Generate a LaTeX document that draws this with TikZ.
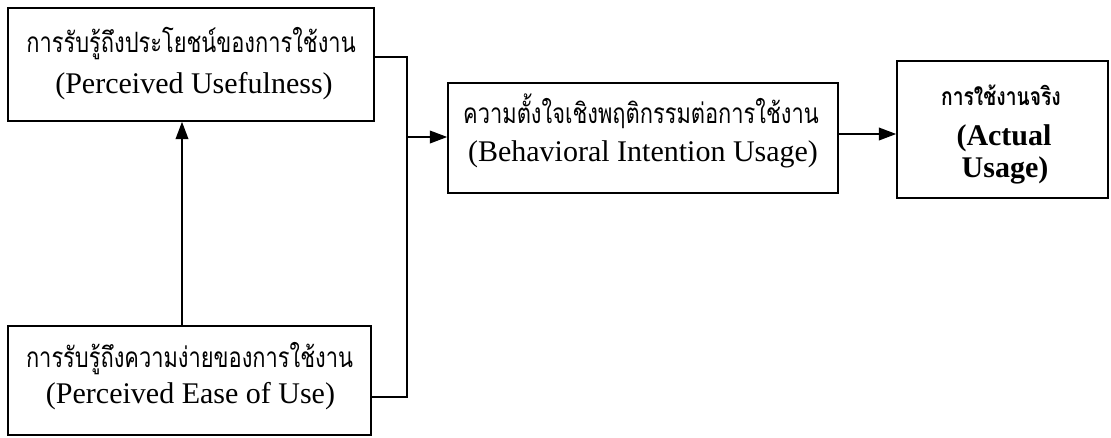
\documentclass[tikz,border=0pt]{standalone}
\usepackage{fontspec}
\setmainfont{Liberation Serif}
\newfontfamily\thaifont[Script=Thai,FakeStretch=0.78]{Loma}
\usetikzlibrary{arrows.meta}
\tikzset{
  box/.style={draw, line width=1.2pt, inner sep=0pt},
  thl/.style={anchor=base, inner sep=0pt, font=\thaifont\fontsize{21}{24}\selectfont},
  lat/.style={anchor=base, inner sep=0pt, font=\fontsize{22.5}{26}\selectfont},
  thb/.style={anchor=base, inner sep=0pt, font=\thaifont\bfseries\fontsize{18.5}{22}\selectfont},
  latb/.style={anchor=base, inner sep=0pt, font=\bfseries\fontsize{22.5}{26}\selectfont},
  conn/.style={line width=1.2pt},
  tri/.tip={Triangle[length=13pt, width=9.5pt]}
}
\begin{document}
\begin{tikzpicture}[x=0.75pt,y=-0.75pt]
\useasboundingbox (0,0) rectangle (1111,437);
% boxes
\node[box, minimum width=274.5pt, minimum height=84.75pt] (PU) at (191,64.5) {};
\node[box, minimum width=272.25pt, minimum height=81.75pt] (PEU) at (189.5,380.5) {};
\node[box, minimum width=292.5pt, minimum height=82.5pt] (BI) at (643,138) {};
\node[box, minimum width=158.25pt, minimum height=102.75pt] (AU) at (1002.5,129.5) {};
% texts
\node[thl] (PUa) at (191,52) {การรับรู้ถึงประโยชน์ของการใช้งาน};
\node[lat] (PUb) at (194,93) {(Perceived Usefulness)};
\node[thl] (PEUa) at (189.5,367) {การรับรู้ถึงความง่ายของการใช้งาน};
\node[lat] (PEUb) at (190.5,403) {(Perceived Ease of Use)};
\node[thl] (BIa) at (641,123) {ความตั้งใจเชิงพฤติกรรมต่อการใช้งาน};
\node[lat] (BIb) at (643,161) {(Behavioral Intention Usage)};
\node[thb] (AUa) at (1001,105) {การใช้งานจริง};
\node[latb] (AUb) at (1004,145) {(Actual};
\node[latb] (AUc) at (1005,177) {Usage)};
% connectors
\coordinate (j1) at (407,57);
\coordinate (j2) at (407,397);
\coordinate (j3) at (407,137);
\coordinate (a1) at (0,134);
\coordinate (u1) at (182,0);
\draw[conn] (PU.east |- j1) -- (j1) -- (j2) -- (PEU.east |- j2);
\draw[conn,-tri] (j3) -- (BI.west |- j3);
\draw[conn,-tri] (BI.east |- a1) -- (AU.west |- a1);
\draw[conn,-tri] (PEU.north -| u1) -- (PU.south -| u1);
\end{tikzpicture}
\end{document}
